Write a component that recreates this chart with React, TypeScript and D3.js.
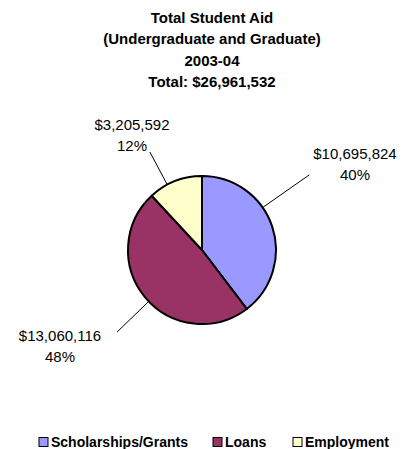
import React from "react";
import * as d3 from "d3";

const categories = ["Scholarships/Grants", "Loans", "Employment"];
const values = [10695824, 13060116, 3205592];
const percentLabels = ["40%", "48%", "12%"];
const colors = ["#9999FF", "#993366", "#FFFFCC"];
const titleLines = [
  "Total Student Aid",
  "(Undergraduate and Graduate)",
  "2003-04",
  "Total: $26,961,532",
];

// label layout: leader angle (deg clockwise from top), leader outer radius, label center
const labelLayout = [
  { angle: 55, outer: 131, lx: 355, ly: 153 },
  { angle: 226, outer: 118, lx: 60, ly: 335 },
  { angle: -28, outer: 111, lx: 132, ly: 124 },
];

const W = 409;
const H = 449;
const cx = 202;
const cy = 250;
const R = 74;
const FONT = "'Liberation Sans', Arial, sans-serif";

export default function App() {
  const pie = d3
    .pie<number>()
    .sort(null)
    .value((d) => d)
    .startAngle(0)
    .endAngle(2 * Math.PI);
  const arcs = pie(values);
  const arc = d3.arc<d3.PieArcDatum<number>>().innerRadius(0).outerRadius(R);
  const fmt = d3.format("$,");

  const legendX = [39, 213, 293];

  return (
    <svg
      width={W}
      height={H}
      style={{ position: "absolute", left: 0, top: 0, background: "#fff" }}
      fontFamily={FONT}
    >
      <rect width={W} height={H} fill="#fff" />
      {titleLines.map((t, i) => (
        <text
          key={i}
          x={212}
          y={22.5 + i * 21.5}
          textAnchor="middle"
          fontWeight="bold"
          fontSize={15}
          fill="#000"
        >
          {t}
        </text>
      ))}
      <g transform={`translate(${cx},${cy})`}>
        {arcs.map((a, i) => (
          <path
            key={i}
            d={arc(a) || ""}
            fill={colors[i]}
            stroke="#000"
            strokeWidth={2}
            strokeLinejoin="round"
          />
        ))}
      </g>
      {labelLayout.map((l, i) => {
        const t = (l.angle * Math.PI) / 180;
        const x1 = cx + R * Math.sin(t);
        const y1 = cy - R * Math.cos(t);
        const x2 = cx + l.outer * Math.sin(t);
        const y2 = cy - l.outer * Math.cos(t);
        return (
          <g key={i}>
            <line x1={x1} y1={y1} x2={x2} y2={y2} stroke="#000" strokeWidth={1} />
            <text
              x={l.lx}
              y={l.ly + 5.5}
              textAnchor="middle"
              fontSize={15}
              fill="#000"
            >
              {fmt(values[i])}
            </text>
            <text
              x={l.lx}
              y={l.ly + 26.5}
              textAnchor="middle"
              fontSize={15}
              fill="#000"
            >
              {percentLabels[i]}
            </text>
          </g>
        );
      })}
      {categories.map((c, i) => (
        <g key={c}>
          <rect
            x={legendX[i]}
            y={437.5}
            width={9}
            height={9}
            fill={colors[i]}
            stroke="#000"
            strokeWidth={1}
          />
          <text
            x={legendX[i] + 12}
            y={447}
            fontSize={14}
            fontWeight="bold"
            fill="#000"
          >
            {c}
          </text>
        </g>
      ))}
    </svg>
  );
}
